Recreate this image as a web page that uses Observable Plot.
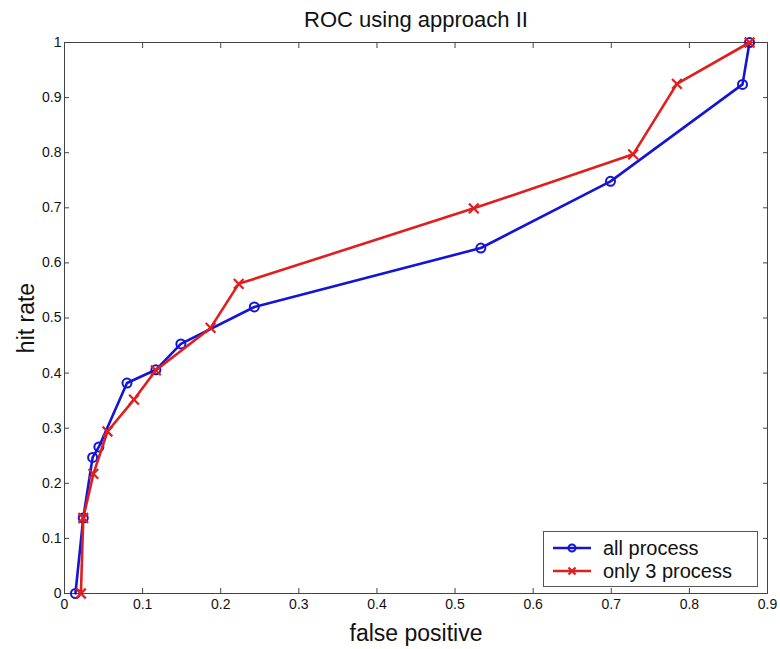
<!DOCTYPE html>
<html><head><meta charset="utf-8">
<script src="https://cdn.jsdelivr.net/npm/d3@7"></script>
<script src="https://cdn.jsdelivr.net/npm/@observablehq/plot@0.6"></script>
<style>
body{margin:0;background:#fff;font-family:"Liberation Sans",Arial,sans-serif;}
#wrap{position:relative;width:780px;height:649px;}
#legend{position:absolute;left:543px;top:531px;width:215px;height:56px;border:1px solid #555;background:#fff;box-sizing:border-box;}
.row{position:absolute;left:0;height:22px;display:flex;align-items:center;font-size:20px;color:#111;}
.row svg{margin-left:9px;margin-right:12px;}
</style></head>
<body><div id="wrap"><div id="legend"></div></div>
<script>
const title = "ROC using approach II";
const xLabel = "false positive";
const yLabel = "hit rate";
const seriesNames = ["all process", "only 3 process"];
const seriesColors = ["#1414d6", "#e01e1e"];

// all process (circles)
const allX = [0.014, 0.024, 0.036, 0.044, 0.080, 0.117, 0.149, 0.243, 0.533, 0.699, 0.868, 0.877];
const allY = [0.000, 0.137, 0.247, 0.266, 0.382, 0.406, 0.453, 0.520, 0.627, 0.748, 0.924, 1.000];
// only 3 process (x marks)
const onlyX = [0.021, 0.024, 0.037, 0.055, 0.089, 0.117, 0.187, 0.223, 0.524, 0.728, 0.784, 0.877];
const onlyY = [0.000, 0.137, 0.217, 0.294, 0.352, 0.405, 0.482, 0.562, 0.699, 0.797, 0.925, 1.000];

const xTicks = [0, 0.1, 0.2, 0.3, 0.4, 0.5, 0.6, 0.7, 0.8, 0.9];
const yTicks = [0, 0.1, 0.2, 0.3, 0.4, 0.5, 0.6, 0.7, 0.8, 0.9, 1];

const allData = allX.map((x, i) => ({x, y: allY[i]}));
const onlyData = onlyX.map((x, i) => ({x, y: onlyY[i]}));

const chart = Plot.plot({
  width: 780,
  height: 649,
  marginLeft: 64,
  marginRight: 13,
  marginTop: 42,
  marginBottom: 56,
  style: {fontFamily: "'Liberation Sans', Arial, sans-serif", fontSize: "14px", color: "#111", background: "#fff"},
  x: {domain: [0, 0.9]},
  y: {domain: [0, 1]},
  marks: [
    Plot.frame({stroke: "#444"}),
    Plot.axisX(xTicks, {anchor: "bottom", tickSize: -5, tickPadding: 11, tickFormat: d => String(d), label: null, stroke: "#444"}),
    Plot.axisX(xTicks, {anchor: "top", tickSize: -5, tickFormat: () => "", label: null, stroke: "#444"}),
    Plot.axisY(yTicks, {anchor: "left", tickSize: -5, tickPadding: 8, tickFormat: d => String(d), label: null, stroke: "#444"}),
    Plot.axisY(yTicks, {anchor: "right", tickSize: -5, tickFormat: () => "", label: null, stroke: "#444"}),
    Plot.line(allData, {x: "x", y: "y", stroke: seriesColors[0], strokeWidth: 2.6}),
    Plot.dot(allData, {x: "x", y: "y", r: 4.5, stroke: seriesColors[0], strokeWidth: 2, fill: "none"}),
    Plot.line(onlyData, {x: "x", y: "y", stroke: seriesColors[1], strokeWidth: 2.6}),
    Plot.dot(onlyData, {x: "x", y: "y", symbol: "times", r: 4.5, stroke: seriesColors[1], strokeWidth: 2.2}),
    Plot.text([title], {frameAnchor: "top", lineAnchor: "middle", dy: -23, fontSize: 22, fill: "#111"}),
    Plot.text([xLabel], {frameAnchor: "bottom", lineAnchor: "middle", dy: 40, fontSize: 23, fill: "#111"}),
    Plot.text([yLabel], {frameAnchor: "left", textAnchor: "middle", lineAnchor: "middle", dx: -38, rotate: -90, fontSize: 23, fill: "#111"})
  ]
});
document.getElementById("wrap").prepend(chart);

const legend = document.getElementById("legend");
seriesNames.forEach((name, i) => {
  const row = document.createElement("div");
  row.className = "row";
  row.style.top = (5 + i * 23) + "px";
  const marker = i === 0
    ? `<circle cx="19" cy="11" r="3.5" fill="none" stroke="${seriesColors[i]}" stroke-width="2"/>`
    : `<path d="M15.5,7.5L22.5,14.5M22.5,7.5L15.5,14.5" stroke="${seriesColors[i]}" stroke-width="2.2"/>`;
  row.innerHTML = `<svg width="38" height="22"><line x1="0" y1="11" x2="38" y2="11" stroke="${seriesColors[i]}" stroke-width="2.6"/>${marker}</svg><span>${name}</span>`;
  legend.appendChild(row);
});
</script>
</body></html>
